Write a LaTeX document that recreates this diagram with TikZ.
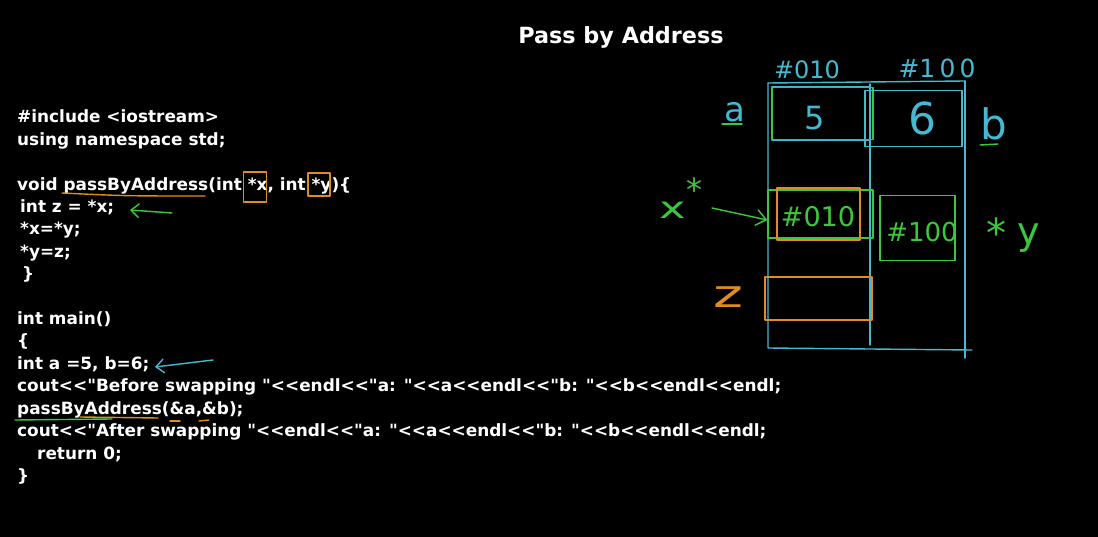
\documentclass[tikz,border=0pt]{standalone}
\usepackage{fontspec}
\usepackage{graphicx}
\setmainfont{DejaVu Sans}
\newfontfamily\codefont{DejaVu Sans}
\newfontfamily\handfont{DejaVu Sans}
\usetikzlibrary{arrows.meta}
\definecolor{hcyan}{RGB}{70,185,210}
\definecolor{hgreen}{RGB}{60,200,60}
\definecolor{horange}{RGB}{225,140,35}
\newcommand{\codefnt}{\codefont\fontsize{16.9}{22}\selectfont\bfseries}
\newcommand{\dq}{\char34\relax}
\tikzset{
  codeline/.style={anchor=base west, text=white, font=\codefnt, inner sep=0pt},
  stroke/.style={line width=1.4pt, line cap=round, line join=round},
  cyanstroke/.style={stroke, draw=hcyan},
  greenstroke/.style={stroke, draw=hgreen},
  orangestroke/.style={stroke, draw=horange},
  markbox/.style={stroke, inner sep=0pt},
  hand/.style={inner sep=0pt},
  barb/.style={-{Straight Barb[length=8pt,width=14pt,line width=1.4pt]}}
}
\begin{document}
\begin{tikzpicture}[x=1pt,y=-1pt]
\fill[black] (0,0) rectangle (1098,537);
\useasboundingbox (0,0) rectangle (1098,537);

% title
\node[text=white, font=\codefont\fontsize{22.3}{26}\selectfont\bfseries] (title) at (621,37) {Pass by Address};

% code
\node[codeline] (l1) at (17,123) {\#include <iostream>};
\node[codeline] (l2) at (17,145.4) {using namespace std;};
\node[codeline] (l3) at (17,190.2) {void passByAddress(int *x, int *y)\{};
\node[codeline] (l4) at (20,212.6) {int z = *x;};
\node[codeline] (l5) at (20,235) {*x=*y;};
\node[codeline] (l6) at (20,257.4) {*y=z;};
\node[codeline] (l7) at (22,279.8) {\}};
\node[codeline] (l8) at (17,324.6) {int main()};
\node[codeline] (l9) at (17,347) {\{};
\node[codeline] (l10) at (17,369.4) {int a =5, b=6;};
\node[codeline] (l11) at (17,391.8) {cout<{}<\dq Before swapping \dq<{}<endl<{}<\dq a: \dq<{}<a<{}<endl<{}<\dq b: \dq<{}<b<{}<endl<{}<endl;};
\node[codeline] (l12) at (17,414.2) {passByAddress(\&a,\&b);};
\node[codeline] (l13) at (17,436.6) {cout<{}<\dq After swapping \dq<{}<endl<{}<\dq a: \dq<{}<a<{}<endl<{}<\dq b: \dq<{}<b<{}<endl<{}<endl;};
\node[codeline] (l14) at (37,459) {return 0;};
\node[codeline] (l15) at (17,481.4) {\}};

% annotations on code
\coordinate (u1s) at (62,193); \coordinate (u1e) at (205,196);
\draw[orangestroke] (u1s) .. controls (125,196) .. (u1e);
\node[markbox, draw=horange, minimum width=23pt, minimum height=30pt] (bx) at (255,187) {};
\node[markbox, draw=horange, minimum width=22pt, minimum height=23pt] (by) at (319,184.5) {};
\coordinate (ga1) at (172,213); \coordinate (ga2) at (130,210);
\draw[greenstroke, barb] (ga1) -- (ga2);
\coordinate (ca1) at (213,360); \coordinate (ca2) at (155,367);
\draw[cyanstroke, barb] (ca1) -- (ca2);
\coordinate (gu1) at (15,420); \coordinate (gu2) at (112,419);
\draw[greenstroke] (gu1) -- (gu2);
\coordinate (ou1) at (80,417); \coordinate (ou2) at (158,418);
\draw[orangestroke] (ou1) -- (ou2);
\coordinate (od1) at (170,421); \coordinate (od2) at (180,421);
\draw[orangestroke] (od1) -- (od2);
\coordinate (od3) at (199,421); \coordinate (od4) at (209,420);
\draw[orangestroke] (od3) -- (od4);

% memory diagram frame
\draw[cyanstroke] (768,83) -- (965,81);
\draw[cyanstroke] (768,83) -- (768,348) -- (972,350);
\draw[cyanstroke] (965,81) -- (965,358);
\draw[cyanstroke] (870,84) -- (870,345);

% addresses on top
\node[hand, text=hcyan, font=\handfont\fontsize{24}{24}\selectfont] (adra) at (807,70) {\#010};
\node[hand, text=hcyan, font=\handfont\fontsize{25}{25}\selectfont] (adrb) at (937,68) {\#1\,0\,0};

% cell a and b
\node[markbox, draw=hcyan, minimum width=98pt, minimum height=53pt] (cella) at (821,113.5) {};
\node[markbox, draw=hgreen, minimum width=101pt, minimum height=52pt] (cellag) at (822.5,113.5) {};
\node[hand, text=hcyan, font=\handfont\fontsize{32}{32}\selectfont] (va) at (815,118) {5};
\node[markbox, draw=hcyan, minimum width=97pt, minimum height=56pt] (cellb) at (913.5,118.5) {};
\node[hand, text=hcyan, font=\handfont\fontsize{44}{44}\selectfont] (vb) at (922,118) {6};
\node[hand, text=hcyan, font=\handfont\fontsize{34}{34}\selectfont] (la) at (735,112) {a};
\draw[greenstroke] (722,124) -- (742,124);
\node[hand, text=hcyan, font=\handfont\fontsize{42}{42}\selectfont] (lb) at (994,124) {b};
\draw[greenstroke] (980,145) -- (998,144);

% pointer x
\node[markbox, draw=hgreen, minimum width=105pt, minimum height=48pt] (cellx) at (820.5,214) {};
\node[markbox, draw=horange, minimum width=83pt, minimum height=52pt] (cellxo) at (818.5,214) {};
\node[hand, text=hgreen, font=\handfont\fontsize{27}{27}\selectfont] (vx) at (818,217) {\#010};
\node[hand, text=hgreen, font=\handfont\fontsize{30}{30}\selectfont, anchor=base west] (lx) at (659,219) {\scalebox{1.5}[1]{x}};
\node[hand, text=hgreen, font=\handfont\fontsize{32}{32}\selectfont, anchor=south west] (lxs) at (lx.east |- 0,202) {*};
\coordinate (xa) at (712,208);
\draw[greenstroke, -{Straight Barb[length=10pt,width=16pt,line width=1.4pt]}] (xa) -- (cellx.west |- 0,220);

% pointer y
\node[markbox, draw=hgreen, minimum width=75pt, minimum height=65pt] (celly) at (917.5,228) {};
\node[hand, text=hgreen, font=\handfont\fontsize{26}{26}\selectfont] (vy) at (922,232) {\#100};
\node[hand, text=hgreen, font=\handfont\fontsize{40}{40}\selectfont] (lys) at (996,233) {*};
\node[hand, text=hgreen, font=\handfont\fontsize{38}{38}\selectfont] (ly) at (1029,238) {y};

% z
\node[hand, text=horange, font=\handfont\fontsize{38}{38}\selectfont] (lz) at (728,297) {\scalebox{1.5}[1]{z}};
\node[markbox, draw=horange, minimum width=107pt, minimum height=43pt] (cellz) at (818.5,298.5) {};
\end{tikzpicture}
\end{document}
